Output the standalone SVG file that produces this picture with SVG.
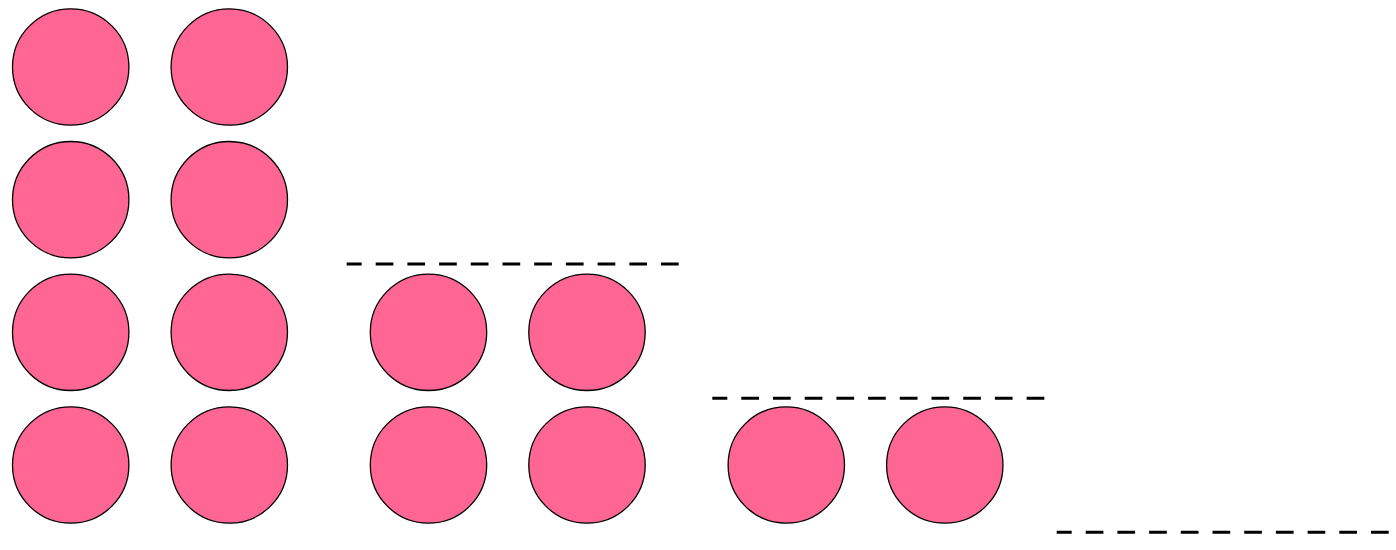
<svg xmlns="http://www.w3.org/2000/svg" width="1396" height="550" viewBox="0 0 1396 550">
<style>
.n{fill:#ff6694;stroke:#000;stroke-width:1.3}
.d{stroke:#000;stroke-width:3;stroke-dasharray:17.7 14;stroke-dashoffset:2.7;fill:none}
</style>
<rect width="1396" height="550" fill="#fff"/>
<g id="col1">
<circle class="n" cx="70.7" cy="67" r="58.2"/>
<circle class="n" cx="70.7" cy="199.7" r="58.2"/>
<circle class="n" cx="70.7" cy="332.3" r="58.2"/>
<circle class="n" cx="70.7" cy="465" r="58.2"/>
</g>
<g id="col2">
<circle class="n" cx="229.3" cy="67" r="58.2"/>
<circle class="n" cx="229.3" cy="199.7" r="58.2"/>
<circle class="n" cx="229.3" cy="332.3" r="58.2"/>
<circle class="n" cx="229.3" cy="465" r="58.2"/>
</g>
<g id="col3">
<circle class="n" cx="428.5" cy="332.3" r="58.2"/>
<circle class="n" cx="428.5" cy="465" r="58.2"/>
</g>
<g id="col4">
<circle class="n" cx="587" cy="332.3" r="58.2"/>
<circle class="n" cx="587" cy="465" r="58.2"/>
</g>
<g id="col5">
<circle class="n" cx="786.3" cy="465" r="58.2"/>
</g>
<g id="col6">
<circle class="n" cx="944.8" cy="465" r="58.2"/>
</g>
<g id="connectors">
<line class="d" x1="346.7" y1="264" x2="679" y2="264"/>
<line class="d" x1="712.3" y1="398.3" x2="1044.6" y2="398.3"/>
<line class="d" x1="1056.7" y1="532.3" x2="1389" y2="532.3"/>
</g>
</svg>
